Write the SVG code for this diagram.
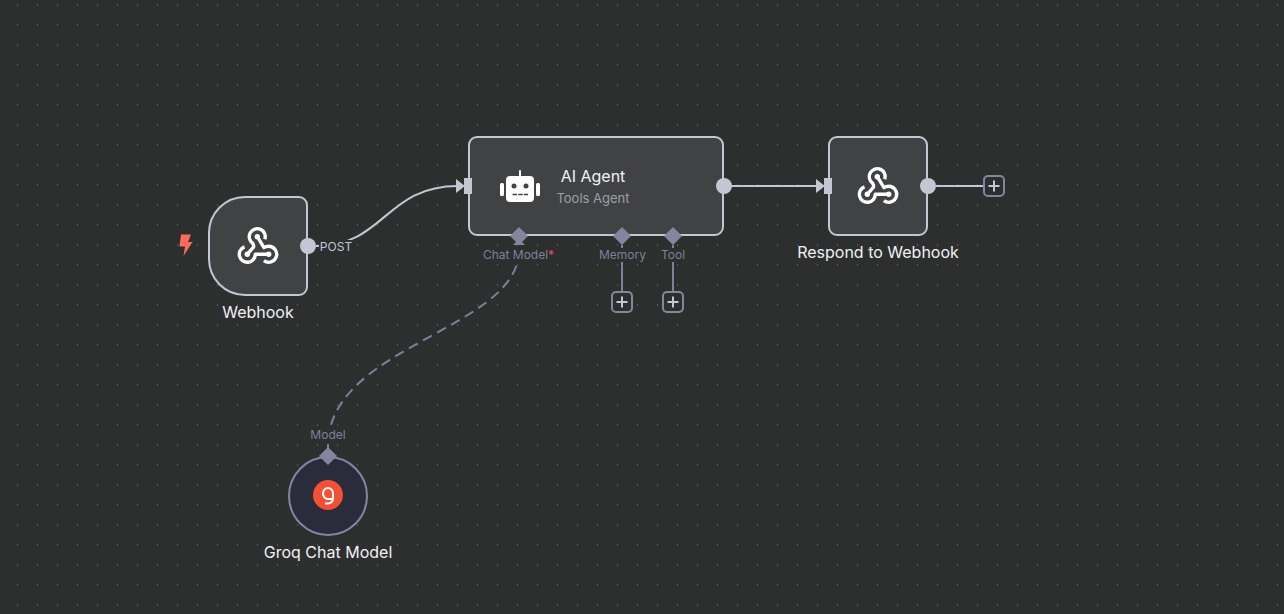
<svg xmlns="http://www.w3.org/2000/svg" xmlns:xlink="http://www.w3.org/1999/xlink" width="1284" height="614" viewBox="0 0 1284 614">
<style>
text{font-family:Inter,"Noto Sans","Liberation Sans",sans-serif}
.box{fill:#414244;stroke:#c4c7d3;stroke-width:2}
.title{fill:#f0f1f6;font-size:16px;font-weight:400;text-anchor:middle}
.port{fill:#7e8199;font-size:12px;text-anchor:middle}
.edge{fill:none;stroke:#c4c7d3;stroke-width:2}
.sub{fill:none;stroke:#7e8199;stroke-width:2}
.out{fill:#c4c7d3}
.dia{fill:#85869e}
.plus{fill:#2d2e2e;stroke:#85869e;stroke-width:2}
.icon{fill:none;stroke:#fff;stroke-width:3.4;stroke-linecap:butt;stroke-linejoin:round}
</style>
<defs>
<pattern id="grid" width="20" height="20" patternUnits="userSpaceOnUse">
<rect x="17" y="4" width="1" height="2" fill="#555657"/>
</pattern>
<symbol id="hook" overflow="visible" viewBox="-20 -20 40 40" width="40" height="40">
<g class="icon">
<path d="M-13.500,0.800 A8,8 0 1 0 -2.700,8.300 H10.700"/>
<path d="M5.900,14.700 A8,8 0 1 0 10.700,0.300 C9,0.300 7.200,0.800 6,1.600 L-0.700,-9.300"/>
<path d="M6.800,-6.700 A8,8 0 1 0 -5.500,-2.900 C-4.300,-1.200 -4.100,0 -4.500,1.200 L-10.700,8.300"/>
</g>
<circle cx="-0.700" cy="-9.300" r="2.700" fill="#fff"/>
<circle cx="-10.700" cy="8.300" r="2.700" fill="#fff"/>
<circle cx="10.700" cy="8.300" r="2.700" fill="#fff"/>
</symbol>
<path id="diamond" class="dia" d="M0,-9 L9,0 L0,9 L-9,0 Z"/>
<g id="plusbtn">
<rect class="plus" x="-10" y="-10" width="20" height="20" rx="4"/>
<path d="M-5.500,0 H5.500 M0,-5.500 V5.500" stroke="#c4c7d3" stroke-width="2" fill="none"/>
</g>
</defs>
<rect width="1284" height="614" fill="#2d2e2e"/>
<rect width="1284" height="614" fill="url(#grid)"/>

<g id="connectors">
<path class="edge" d="M316,246 C385,246 385,186 458,186"/>
<rect x="319" y="240" width="34" height="13" fill="#2d2e2e"/>
<path class="edge" d="M731,186 H818"/>
<path class="edge" d="M936,186 H984"/>
<path class="sub" d="M622,245 V292"/>
<path class="sub" d="M673,245 V292"/>
<path class="sub" stroke-dasharray="10,6" d="M519,250 C519,330 328,345 328,446"/>
<path d="M328,444 V456" class="sub"/>
<path d="M456,179 L465,186 L456,193 Z" fill="#c4c7d3"/>
<path d="M816,179 L825,186 L816,193 Z" fill="#c4c7d3"/>
<path d="M513,245 L519,239 L525,245 Z" class="dia"/>
</g>

<g id="webhook">
<path class="box" d="M245,197 H299 A8,8 0 0 1 307,205 V287 A8,8 0 0 1 299,295 H245 A36,36 0 0 1 209,259 V233 A36,36 0 0 1 245,197 Z"/>
<use xlink:href="#hook" href="#hook" x="238" y="226"/>
<circle class="out" cx="308" cy="246" r="8"/>
<path d="M181,234.500 H191 L188,242 H192.500 L183.500,256 L185,246.500 H179.500 Z" fill="#ff6d5a"/>
<text class="title" x="258" y="318">Webhook</text>
<text x="336" y="251" font-size="12" fill="#c4c7d3" text-anchor="middle">POST</text>
</g>

<g id="ai-agent">
<rect class="box" x="469" y="137" width="254" height="98" rx="8"/>
<rect x="464" y="178" width="8" height="16" fill="#c4c7d3"/>
<circle class="out" cx="724" cy="186" r="8"/>
<g fill="#fff">
<rect x="506" y="176" width="28" height="26" rx="4"/>
<rect x="519" y="170" width="2" height="7" rx="1"/>
<rect x="500" y="183" width="4" height="13" rx="1.500"/>
<rect x="536" y="183" width="4" height="13" rx="1.500"/>
</g>
<circle cx="514" cy="186" r="2.500" fill="#414244"/>
<circle cx="526" cy="186" r="2.500" fill="#414244"/>
<path d="M512.500,194.500 H517 M518.300,194.500 H522.700 M524,194.500 H528" stroke="#414244" stroke-width="1.500"/>
<text x="593" y="182" font-size="16" font-weight="400" fill="#f0f1f6" text-anchor="middle">AI Agent</text>
<text x="593" y="203" font-size="13" fill="#9c9ea9" text-anchor="middle">Tools Agent</text>
<use xlink:href="#diamond" href="#diamond" x="519" y="236"/>
<use xlink:href="#diamond" href="#diamond" x="622" y="236"/>
<use xlink:href="#diamond" href="#diamond" x="673" y="236"/>
<rect x="483" y="248" width="72" height="14" fill="#2d2e2e"/>
<rect x="599" y="248" width="47" height="14" fill="#2d2e2e"/>
<rect x="661" y="248" width="25" height="14" fill="#2d2e2e"/>
<text class="port" x="518.500" y="259">Chat Model<tspan fill="#e8485f">*</tspan></text>
<text class="port" x="622.500" y="259">Memory</text>
<text class="port" x="673" y="259">Tool</text>
<use xlink:href="#plusbtn" href="#plusbtn" x="622" y="302"/>
<use xlink:href="#plusbtn" href="#plusbtn" x="673" y="302"/>
</g>

<g id="respond-to-webhook">
<rect class="box" x="829" y="137" width="98" height="98" rx="8"/>
<rect x="824" y="178" width="8" height="16" fill="#c4c7d3"/>
<use xlink:href="#hook" href="#hook" x="858" y="166"/>
<circle class="out" cx="928" cy="186" r="8"/>
<use xlink:href="#plusbtn" href="#plusbtn" x="994" y="186"/>
<text class="title" x="878" y="258">Respond to Webhook</text>
</g>

<g id="groq-chat-model">
<circle cx="328" cy="496" r="39" fill="#2a2b3b" stroke="#85869e" stroke-width="2"/>
<circle cx="328" cy="495" r="15" fill="#f55036"/>
<path d="M333,493.500 A5,5.500 0 1 0 328,499 H333 M333,493.500 V498.500 A5,5 0 0 1 328,503.500 H325" fill="none" stroke="#fff" stroke-width="2"/>
<use xlink:href="#diamond" href="#diamond" x="328" y="456"/>
<rect x="309" y="428" width="38" height="14" fill="#2d2e2e"/>
<text class="port" x="328" y="439">Model</text>
<text class="title" x="328" y="558">Groq Chat Model</text>
</g>
</svg>
